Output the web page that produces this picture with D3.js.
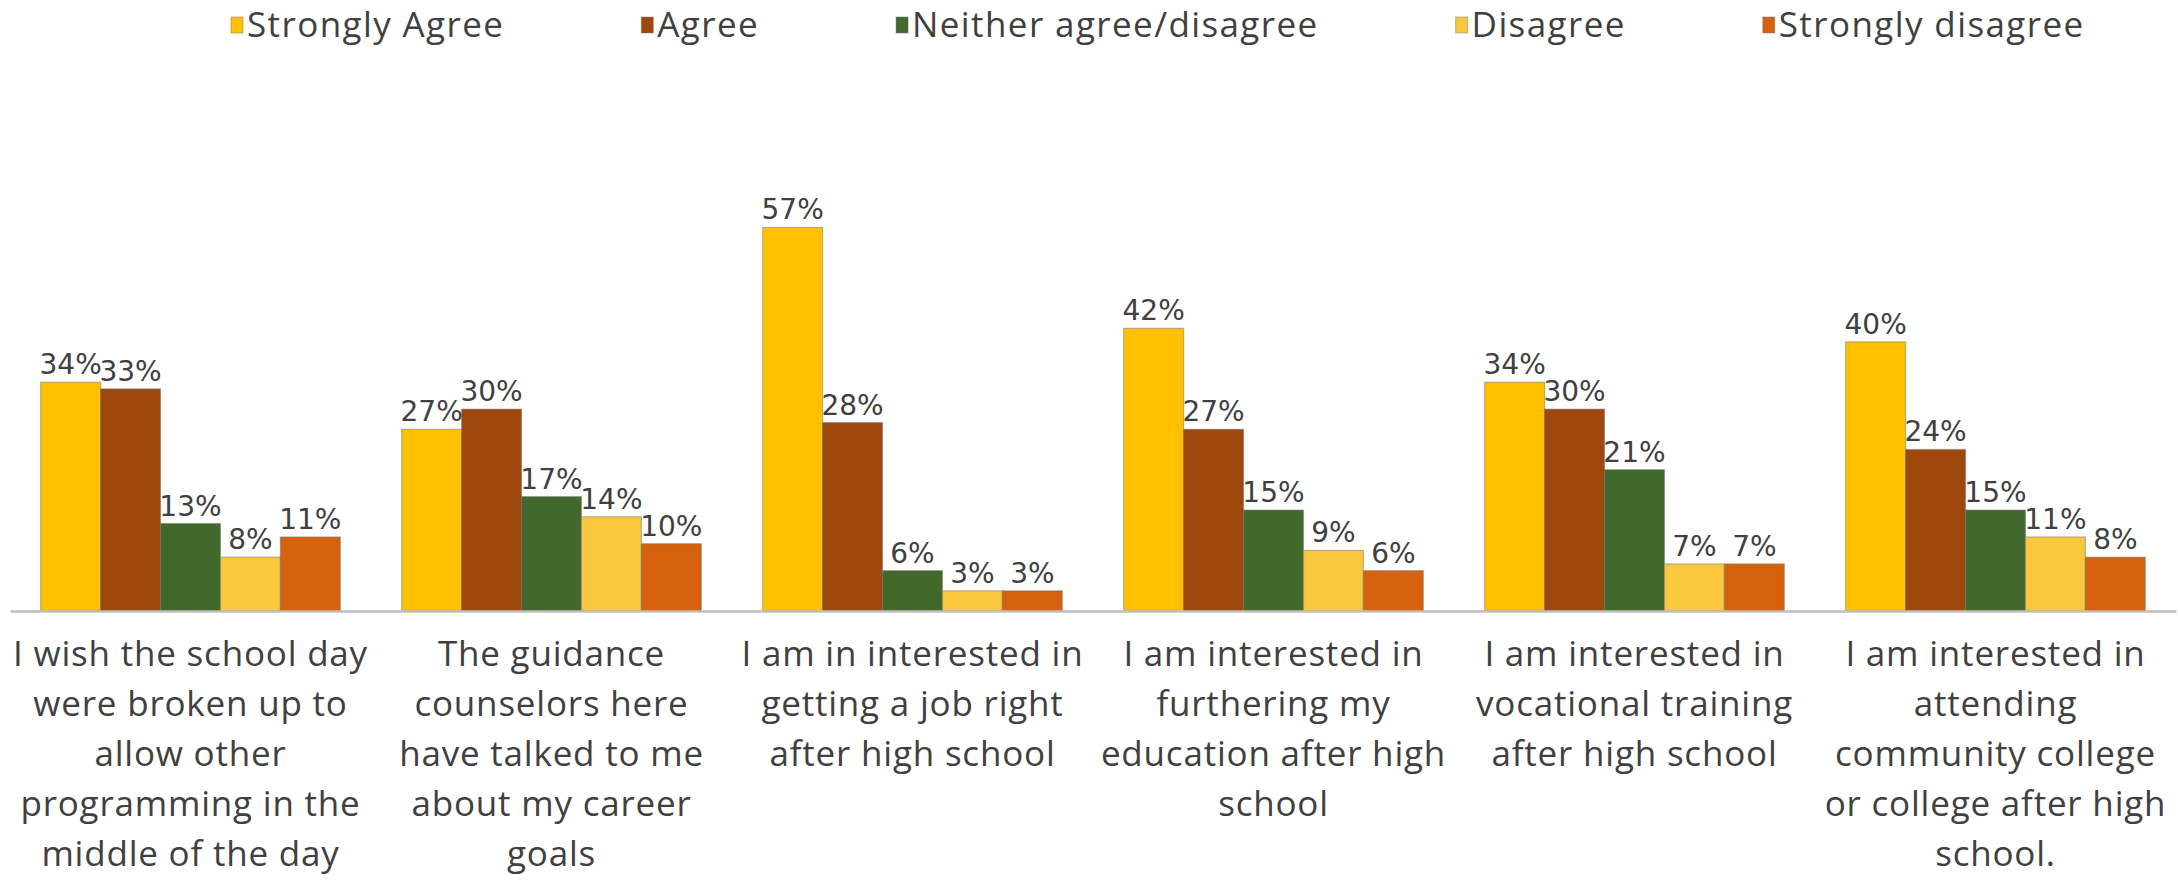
<!DOCTYPE html>
<html>
<head>
<meta charset="utf-8">
<script src="https://cdn.jsdelivr.net/npm/d3@7"></script>
<style>
  html, body { margin: 0; padding: 0; background: #ffffff; }
  svg { display: block; }
</style>
</head>
<body>
<svg id="chart" width="2178" height="880"></svg>
<script>
// Survey statements (x categories) and their wrapped tick labels
const categories = [
  "I wish the school day were broken up to allow other programming in the middle of the day",
  "The guidance counselors here have talked to me about my career goals",
  "I am in interested in getting a job right after high school",
  "I am interested in furthering my education after high school",
  "I am interested in vocational training after high school",
  "I am interested in attending community college or college after high school."
];
const categoryLines = [
  ["I wish the school day", "were broken up to", "allow other", "programming in the", "middle of the day"],
  ["The guidance", "counselors here", "have talked to me", "about my career", "goals"],
  ["I am in interested in", "getting a job right", "after high school"],
  ["I am interested in", "furthering my", "education after high", "school"],
  ["I am interested in", "vocational training", "after high school"],
  ["I am interested in", "attending", "community college", "or college after high", "school."]
];

// Response shares (%) per statement
const seriesNames = ["Strongly Agree", "Agree", "Neither agree/disagree", "Disagree", "Strongly disagree"];
const strongAgree    = [34, 27, 57, 42, 34, 40];
const agree          = [33, 30, 28, 27, 30, 24];
const neither        = [13, 17,  6, 15, 21, 15];
const disagree       = [ 8, 14,  3,  9,  7, 11];
const strongDisagree = [11, 10,  3,  6,  7,  8];
const seriesValues = [strongAgree, agree, neither, disagree, strongDisagree];
const seriesColors = ["#FFC000", "#9E480E", "#43682B", "#F9C83C", "#D6620F"];

const svg = d3.select("#chart");
const baseY = 611;

const x0 = d3.scaleBand()
  .domain(categories)
  .range([10, 2176])
  .paddingInner(0.17)
  .paddingOuter(0.085);

const x1 = d3.scaleBand()
  .domain(seriesNames)
  .range([0, x0.bandwidth()]);

const y = d3.scaleLinear()
  .domain([0, 60])
  .range([baseY, baseY - 6.73 * 60]);

const color = d3.scaleOrdinal().domain(seriesNames).range(seriesColors);

// Flatten into records
const records = [];
categories.forEach((c, ci) => {
  seriesNames.forEach((s, si) => {
    records.push({ cat: c, series: s, value: seriesValues[si][ci] });
  });
});

// Bars
const groups = svg.append("g").attr("class", "bars")
  .selectAll("g")
  .data(categories)
  .join("g")
  .attr("transform", d => `translate(${x0(d)},0)`);

groups.selectAll("rect")
  .data(c => records.filter(r => r.cat === c))
  .join("rect")
  .attr("x", d => x1(d.series))
  .attr("y", d => y(d.value))
  .attr("width", x1.bandwidth())
  .attr("height", d => y(0) - y(d.value))
  .attr("fill", d => color(d.series))
  .attr("stroke", "rgba(110,110,110,0.45)")
  .attr("stroke-width", 1.2);

// Value labels
groups.selectAll("text.val")
  .data(c => records.filter(r => r.cat === c))
  .join("text")
  .attr("class", "val")
  .attr("x", d => x1(d.series) + x1.bandwidth() / 2)
  .attr("y", d => y(d.value) - 8)
  .attr("text-anchor", "middle")
  .attr("font-family", "'DejaVu Sans', Verdana, sans-serif")
  .attr("font-size", 28)
  .attr("fill", "#404040")
  .text(d => d.value + "%");

// Category axis
const axis = svg.append("g")
  .attr("transform", `translate(0,${baseY})`)
  .call(d3.axisBottom(x0).tickSize(0).tickSizeOuter(0).tickPadding(0));

axis.select(".domain")
  .attr("stroke", "#BFBFBF")
  .attr("stroke-width", 2.5);

axis.selectAll(".tick text").each(function (d) {
  const t = d3.select(this);
  const lines = categoryLines[categories.indexOf(d)];
  t.text(null)
    .attr("y", 0)
    .attr("dy", null)
    .attr("font-family", "'Open Sans', 'Noto Sans', sans-serif")
    .attr("font-size", 35)
    .attr("letter-spacing", 0.8)
    .attr("fill", "#404040");
  lines.forEach((ln, i) => {
    t.append("tspan")
      .attr("x", 0)
      .attr("y", 55 + i * 50)
      .text(ln);
  });
});

// Legend
const legend = svg.append("g").attr("class", "legend");
let lx = 231;
seriesNames.forEach((s) => {
  const item = legend.append("g").attr("transform", `translate(${lx},0)`);
  item.append("rect")
    .attr("x", 0)
    .attr("y", 17)
    .attr("width", 12)
    .attr("height", 16)
    .attr("fill", color(s))
    .attr("stroke", "rgba(110,110,110,0.45)")
    .attr("stroke-width", 1);
  const txt = item.append("text")
    .attr("x", 16)
    .attr("y", 37)
    .attr("font-family", "'Open Sans', 'Noto Sans', sans-serif")
    .attr("font-size", 35)
    .attr("letter-spacing", 1.4)
    .attr("fill", "#404040")
    .text(s);
  lx += 16 + txt.node().getComputedTextLength() + 137;
});
</script>
</body>
</html>
